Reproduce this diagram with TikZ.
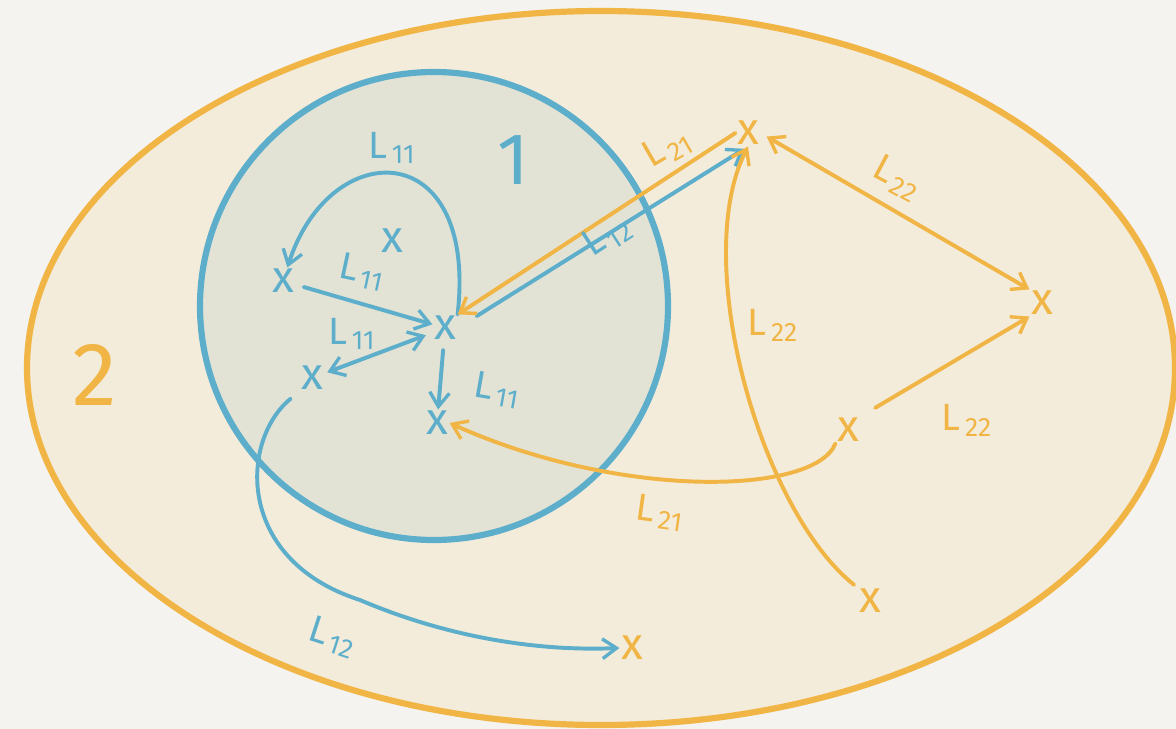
\documentclass[tikz,border=0pt]{standalone}
\usepackage{fontspec}
\setmainfont{Fira Sans}
\usetikzlibrary{arrows.meta}
\definecolor{bgc}{RGB}{244,243,239}
\definecolor{ellfill}{RGB}{244,236,218}
\definecolor{cirfill}{RGB}{227,227,213}
\definecolor{bl}{RGB}{93,174,203}
\definecolor{og}{RGB}{240,181,69}
\newcommand{\Lsub}[1]{L\kern3pt\textsubscript{#1}}
\tikzset{
  ptb/.style={text=bl, font=\fontsize{32}{34}\selectfont, inner sep=1pt},
  pto/.style={text=og, font=\fontsize{32}{34}\selectfont, inner sep=1pt},
  lab/.style={font=\fontsize{27}{29}\selectfont, inner sep=1pt},
  labb/.style={lab, text=bl},
  labo/.style={lab, text=og},
  bline/.style={draw=bl, line width=2.8pt, line cap=round, -{Straight Barb[length=10pt,width=14pt,line width=2.4pt]}},
  oline/.style={draw=og, line width=2.8pt, line cap=round, -{Straight Barb[length=10pt,width=14pt,line width=2.4pt]}},
}
\begin{document}
\begin{tikzpicture}[x=0.025cm,y=-0.025cm]
\fill[bgc] (0,0) rectangle (1176,729);
\useasboundingbox (0,0) rectangle (1176,729);
% regions
\draw[og, line width=4.4pt, fill=ellfill] (601,368) ellipse [x radius=574, y radius=357];
\draw[bl, line width=4.4pt, fill=cirfill] (434,306) circle [radius=234];
\node[text=bl, font=\fontsize{52}{56}\selectfont] (one) at (513,160) {1};
\node[text=og, font=\fontsize{64}{68}\selectfont] (two) at (95,375) {2};
% points
\node[ptb] (A) at (445,328) {x};
\node[ptb] (B) at (283,281) {x};
\node[ptb] (C) at (392,241) {x};
\node[ptb] (D) at (312,378) {x};
\node[ptb] (E) at (437,423) {x};
\node[pto] (F) at (748,133) {x};
\node[pto] (G) at (1042,303) {x};
\node[pto] (H) at (848,430) {x};
\node[pto] (I) at (870,601) {x};
\node[pto] (J) at (632,648) {x};
% blue connectors
\draw[bline] (A.north east) .. controls (478,135) and (330,135) .. (B);
\draw[bline, shorten <=6pt] (B) -- (A);
\draw[bline, {Straight Barb[length=10pt,width=14pt,line width=2.4pt]}-{Straight Barb[length=10pt,width=14pt,line width=2.4pt]}, shorten <=2pt, shorten >=5pt] (D) -- (A);
\draw[bline, shorten <=6pt] (A) -- (E);
\draw[bline, shorten <=16pt, shorten >=3pt] (A.east) -- (F.south);
\draw[bline, shorten <=8pt] (D.south west) .. controls (240,440) and (235,560) .. (360,600) .. controls (430,630) and (520,652) .. (J.west);
% orange connectors
\draw[oline] (F.west) -- (A.north east);
\draw[oline, {Straight Barb[length=10pt,width=14pt,line width=2.4pt]}-{Straight Barb[length=10pt,width=14pt,line width=2.4pt]}, shorten <=5pt] (F.east) -- (G.north west);
\draw[oline, shorten <=12pt] (H.north east) -- (G.south west);
\draw[oline] (H.south west) .. controls (815,495) and (620,500) .. (E.east);
\draw[oline, shorten <=3pt] (I.north west) .. controls (760,510) and (690,260) .. (F.south);
% labels
\node[labb] (l1) at (392,148) {\Lsub{11}};
\node[labb, rotate=-12] (l2) at (362,272) {\Lsub{11}};
\node[labb] (l3) at (352,334) {\Lsub{11}};
\node[labb, rotate=-10] (l4) at (497,390) {\Lsub{11}};
\node[labb, rotate=33] (l5) at (607,236) {\Lsub{12}};
\node[labo, rotate=30] (l6) at (667,148) {\Lsub{21}};
\node[labo, rotate=-28] (l7) at (897,178) {\Lsub{22}};
\node[labo] (l8) at (773,325) {\Lsub{22}};
\node[labo] (l9) at (967,420) {\Lsub{22}};
\node[labo, rotate=-8] (l10) at (660,513) {\Lsub{21}};
\node[labb, rotate=-18] (l11) at (333,637) {\Lsub{12}};
\end{tikzpicture}
\end{document}
